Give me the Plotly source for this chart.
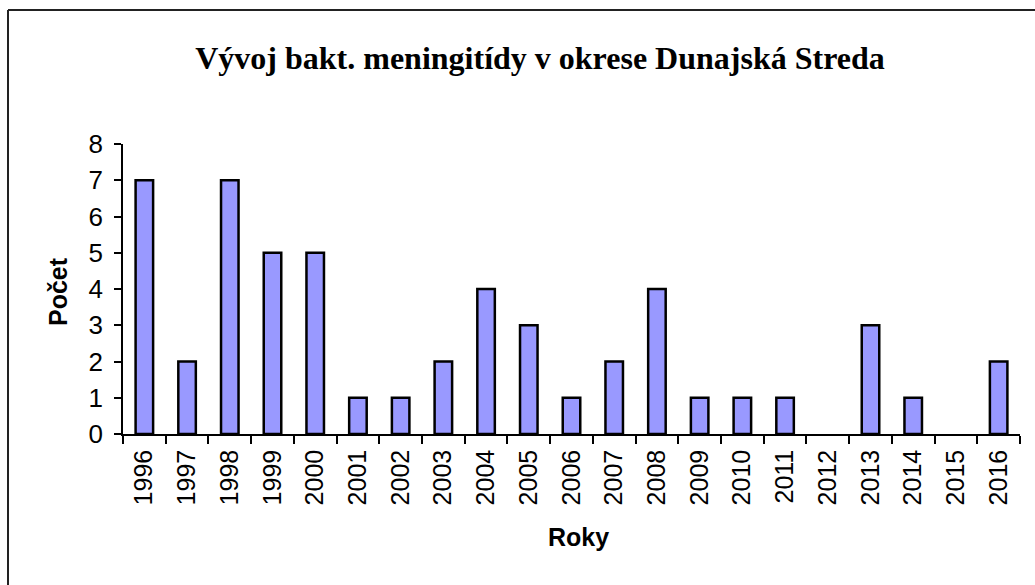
import plotly.graph_objects as go

years = ["1996", "1997", "1998", "1999", "2000", "2001", "2002", "2003", "2004", "2005",
         "2006", "2007", "2008", "2009", "2010", "2011", "2012", "2013", "2014", "2015", "2016"]
counts = [7, 2, 7, 5, 5, 1, 1, 2, 4, 3, 1, 2, 4, 1, 1, 1, 0, 3, 1, 0, 2]

title_text = "Vývoj bakt. meningitídy v okrese Dunajská Streda"
y_title = "Počet"
x_title = "Roky"

W, H = 1035, 585
L, R, T, B = 123, 15, 144, 151
pw = W - L - R
ph = H - T - B

def px_x(p):
    return (p - L) / pw

def px_y(p):
    return (H - B - p) / ph

line_widths = [2.5 if v > 0 else 0 for v in counts]

fig = go.Figure(go.Bar(
    x=years, y=counts,
    marker=dict(color="#9999FF", line=dict(color="black", width=line_widths)),
))

fig.update_layout(
    width=W, height=H,
    margin=dict(l=L, r=R, t=T, b=B),
    paper_bgcolor="white", plot_bgcolor="white",
    bargap=0.59,
    showlegend=False,
    font=dict(family="Liberation Sans, Arial", color="black"),
    title=dict(text="<b>" + title_text + "</b>", xref="container", yref="container",
               x=540 / W, y=1 - 58 / H, xanchor="center", yanchor="middle",
               font=dict(family="Liberation Serif, Times New Roman", size=32, color="black")),
    xaxis=dict(type="category", showline=True, linecolor="black", linewidth=1.5,
               ticks="outside", ticklen=8, tickwidth=1.5, tickcolor="black",
               tickson="boundaries", tickangle=-90, showgrid=False,
               ticklabelstandoff=4, tickfont=dict(size=25)),
    yaxis=dict(range=[0, 8], dtick=1, showline=True, linecolor="black", linewidth=1.5,
               ticks="outside", ticklen=7, tickwidth=1.5, tickcolor="black",
               showgrid=False, zeroline=False, ticklabelstandoff=6,
               tickfont=dict(size=26)),
    annotations=[
        dict(text="<b>" + y_title + "</b>", xref="paper", yref="paper",
             x=px_x(58), y=px_y(292), textangle=-90, showarrow=False,
             xanchor="center", yanchor="middle", font=dict(size=25)),
        dict(text="<b>" + x_title + "</b>", xref="paper", yref="paper",
             x=px_x(578), y=px_y(537), showarrow=False,
             xanchor="center", yanchor="middle", font=dict(size=25)),
    ],
    shapes=[
        dict(type="line", xref="paper", yref="paper", x0=px_x(8), x1=px_x(8),
             y0=px_y(10), y1=px_y(600), line=dict(color="#222", width=2)),
        dict(type="line", xref="paper", yref="paper", x0=px_x(8), x1=px_x(1050),
             y0=px_y(10), y1=px_y(10), line=dict(color="#222", width=2)),
    ],
)

fig.write_html("out.html", config={"displayModeBar": False},
               post_script="document.body.style.margin='0';document.body.style.padding='0';")
